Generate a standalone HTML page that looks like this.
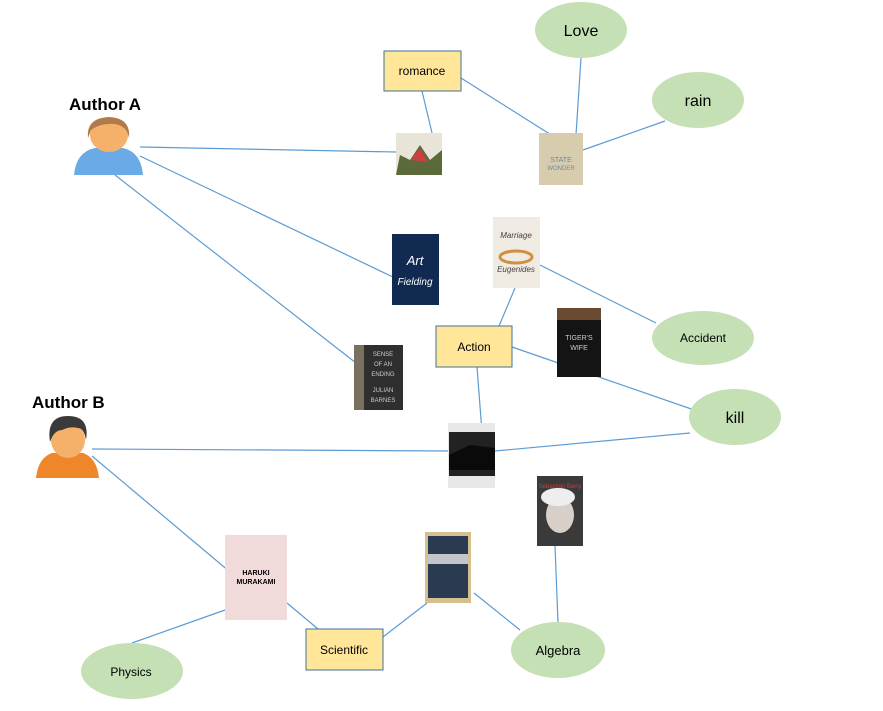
<!DOCTYPE html>
<html><head><meta charset="utf-8"><style>
html,body{margin:0;padding:0;background:#fff;width:883px;height:711px;overflow:hidden}
svg{display:block}
text{font-family:"Liberation Sans","DejaVu Sans",sans-serif}
</style></head><body>
<svg width="883" height="711" viewBox="0 0 883 711" xmlns="http://www.w3.org/2000/svg">
<g stroke="#5b9bd5" stroke-width="1.2" fill="none">
<line x1="422" y1="91" x2="432" y2="133"/>
<line x1="461" y1="78" x2="575" y2="150"/>
<line x1="581" y1="58" x2="575" y2="150"/>
<line x1="665" y1="121" x2="583" y2="150"/>
<line x1="140" y1="147" x2="396" y2="152"/>
<line x1="140" y1="156" x2="395" y2="278"/>
<line x1="115" y1="175" x2="365" y2="370"/>
<line x1="515" y1="288" x2="499" y2="326"/>
<line x1="540" y1="265" x2="656" y2="323"/>
<line x1="512" y1="347" x2="700" y2="412"/>
<line x1="477" y1="367" x2="482" y2="432"/>
<line x1="92" y1="449" x2="448" y2="451"/>
<line x1="495" y1="451" x2="690" y2="433"/>
<line x1="92" y1="456" x2="230" y2="572"/>
<line x1="287" y1="603" x2="318" y2="629"/>
<line x1="225" y1="610" x2="132" y2="643"/>
<line x1="383" y1="637" x2="427" y2="603"/>
<line x1="474" y1="593" x2="520" y2="630"/>
<line x1="555" y1="546" x2="558" y2="622"/>
</g>
<!-- boxes -->
<g fill="#ffe699" stroke="#41719c" stroke-width="1">
<rect x="384" y="51" width="77" height="40"/>
<rect x="436" y="326" width="76" height="41"/>
<rect x="306" y="629" width="77" height="41"/>
</g>
<g font-size="12" text-anchor="middle" fill="#000">
<text x="422" y="75">romance</text>
<text x="474" y="351">Action</text>
<text x="344" y="654">Scientific</text>
</g>
<!-- ellipses -->
<g fill="#c5e0b4">
<ellipse cx="581" cy="30" rx="46" ry="28"/>
<ellipse cx="698" cy="100" rx="46" ry="28"/>
<ellipse cx="703" cy="338" rx="51" ry="27"/>
<ellipse cx="735" cy="417" rx="46" ry="28"/>
<ellipse cx="558" cy="650" rx="47" ry="28"/>
<ellipse cx="132" cy="671" rx="51" ry="28"/>
</g>
<g text-anchor="middle" fill="#000">
<text x="581" y="36" font-size="16">Love</text>
<text x="698" y="106" font-size="16">rain</text>
<text x="703" y="342" font-size="12">Accident</text>
<text x="735" y="423" font-size="16">kill</text>
<text x="558" y="655" font-size="13">Algebra</text>
<text x="131" y="676" font-size="12">Physics</text>
</g>
<!-- authors -->
<text x="69" y="110" font-size="17" font-weight="bold">Author A</text>
<text x="32" y="408" font-size="17" font-weight="bold">Author B</text>
<g>
<path d="M74 175 Q76 152 95 148 L123 148 Q141 152 143 175 Z" fill="#6aaae6"/>
<ellipse cx="109" cy="135" rx="19" ry="17" fill="#f5b06a"/>
<path d="M88 138 Q86 118 109 117 Q131 118 129 138 Q127 126 115 124 Q100 123 91 130 Z" fill="#b07a4a"/>
<path d="M36 478 Q38 458 52 453 L83 453 Q97 458 99 478 Z" fill="#f0862a"/>
<ellipse cx="68" cy="440" rx="17" ry="18" fill="#f5b06a"/>
<path d="M50 442 Q46 416 68 416 Q90 416 86 440 Q84 428 78 428 Q70 426 62 430 Q54 430 50 442 Z" fill="#3a3a3a"/>
</g>
<!-- books -->
<rect x="396" y="133" width="46" height="42" fill="#e8e4d8"/>
<path d="M396 175 L400 155 L410 160 L420 145 L430 160 L442 150 L442 175 Z" fill="#5a6a3a"/>
<path d="M410 160 L420 148 L428 162 Z" fill="#c84040"/>
<rect x="539" y="133" width="44" height="52" fill="#d8ccae"/>
<text x="561" y="162" font-size="7" fill="#6a8aa0" text-anchor="middle">STATE</text>
<text x="561" y="170" font-size="6" fill="#6a8aa0" text-anchor="middle">WONDER</text>
<rect x="392" y="234" width="47" height="71" fill="#102a52"/>
<text x="415" y="265" font-size="13" fill="#fff" text-anchor="middle" font-style="italic">Art</text>
<text x="415" y="285" font-size="10" fill="#fff" text-anchor="middle" font-style="italic">Fielding</text>
<rect x="493" y="217" width="47" height="71" fill="#efebe2"/>
<ellipse cx="516" cy="257" rx="16" ry="6" fill="none" stroke="#d09040" stroke-width="3"/>
<text x="516" y="238" font-size="8" fill="#444" text-anchor="middle" font-style="italic">Marriage</text>
<text x="516" y="272" font-size="8" fill="#444" text-anchor="middle" font-style="italic">Eugenides</text>
<rect x="557" y="308" width="44" height="69" fill="#141414"/>
<rect x="557" y="308" width="44" height="12" fill="#6a4a30"/>
<text x="579" y="340" font-size="7" fill="#ccc" text-anchor="middle">TIGER'S</text>
<text x="579" y="350" font-size="7" fill="#ccc" text-anchor="middle">WIFE</text>
<rect x="354" y="345" width="49" height="65" fill="#2f2f2f"/>
<rect x="354" y="345" width="10" height="65" fill="#7a7060"/>
<g font-size="6" fill="#ccc" text-anchor="middle"><text x="383" y="356">SENSE</text><text x="383" y="366">OF AN</text><text x="383" y="376">ENDING</text><text x="383" y="392">JULIAN</text><text x="383" y="402">BARNES</text></g>
<rect x="448" y="423" width="47" height="65" fill="#e8e8e8"/>
<rect x="449" y="432" width="46" height="44" fill="#222"/>
<path d="M449 455 L470 445 L495 448 L495 470 L449 470 Z" fill="#0a0a0a"/>
<rect x="537" y="476" width="46" height="70" fill="#3a3a3a"/>
<ellipse cx="560" cy="515" rx="14" ry="18" fill="#d8d0c8"/>
<ellipse cx="558" cy="497" rx="17" ry="9" fill="#eee"/>
<text x="560" y="488" font-size="6" fill="#c04040" text-anchor="middle">Sebastian Barry</text>
<rect x="225" y="535" width="62" height="85" fill="#f0dada"/>
<text x="256" y="575" font-size="7" fill="#000" text-anchor="middle" font-weight="bold">HARUKI</text>
<text x="256" y="584" font-size="7" fill="#000" text-anchor="middle" font-weight="bold">MURAKAMI</text>
<rect x="425" y="532" width="46" height="71" fill="#d6c090"/>
<rect x="428" y="536" width="40" height="62" fill="#2a3a50"/>
<rect x="428" y="554" width="40" height="10" fill="#e8e8e8" opacity="0.8"/>
</svg>
</body></html>
